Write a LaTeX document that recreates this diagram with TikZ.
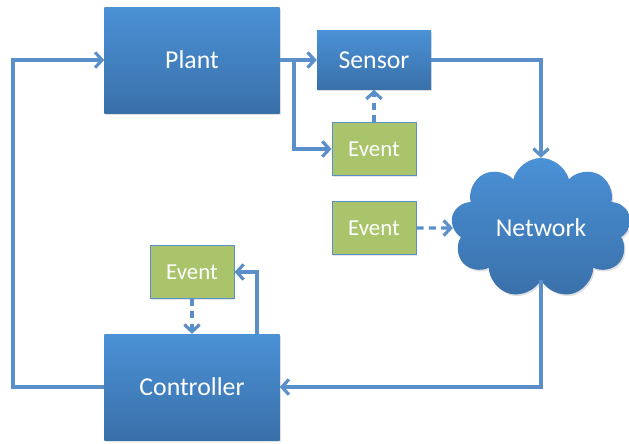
\documentclass[tikz,border=0pt]{standalone}
\usepackage{fontspec}
\setmainfont{Carlito}
\usetikzlibrary{shapes,shadows,arrows.meta}
\definecolor{boxtop}{HTML}{4A91D6}
\definecolor{boxbot}{HTML}{3A70AA}
\definecolor{evfill}{HTML}{A9C46B}
\definecolor{wire}{HTML}{5B8FC9}
\tikzset{blk/.style={rectangle,inner sep=0pt,top color=boxtop,bottom color=boxbot,text=white,font=\fontsize{22}{26}\selectfont,drop shadow={opacity=0.25,shadow xshift=0.04cm,shadow yshift=-0.05cm}}}
\tikzset{evt/.style={rectangle,inner sep=0pt,draw=wire,line width=0.8pt,fill=evfill,text=white,minimum width=2.52cm,minimum height=1.59cm,font=\fontsize{19.5}{23}\selectfont,drop shadow={opacity=0.2,shadow xshift=0.03cm,shadow yshift=-0.04cm}}}
\tikzset{wr/.style={draw=wire,line width=2.7pt}}
\tikzset{dsh/.style={wr,dash pattern=on 6pt off 4.5pt}}

\begin{document}
\begin{tikzpicture}[>={Straight Barb[length=6pt,width=13pt]},x=0.03cm,y=-0.03cm]
    \useasboundingbox (0,0) rectangle (629,443);

    \node[blk,minimum width=5.25cm,minimum height=3.18cm] (plant) at (192,60) {Plant};
    \node[blk,minimum width=3.42cm,minimum height=1.77cm] (sensor) at (374,60) {Sensor};
    \node[evt] (ev1) at (374,149) {Event};
    \node[evt] (ev2) at (374,228) {Event};
    \node[cloud,cloud puffs=9,aspect=1.25,inner sep=0pt,top color=boxtop,bottom color=boxbot,text=white,
          minimum width=5.4cm,minimum height=4.2cm,font=\fontsize{22}{26}\selectfont,
          drop shadow={opacity=0.25,shadow xshift=0.04cm,shadow yshift=-0.05cm}] (net) at (541,228) {Network};
    \node[evt] (ev3) at (192,272) {Event};
    \node[blk,minimum width=5.25cm,minimum height=3.18cm] (ctrl) at (192,387) {Controller};

    \coordinate (br) at (294,60);
    \coordinate (lc) at (13,387);
    \coordinate (ct) at (257,334);

    \draw [wr,->] (plant) -- (sensor);
    \draw [wr,->] (br) |- (ev1);
    \draw [dsh,->] (ev1) -- (sensor);
    \draw [wr,->] (sensor.east) -| (net);
    \draw [dsh,->] (ev2) -- (net);
    \draw [wr,->] (net) |- (ctrl);
    \draw [dsh,->] (ev3) -- (ctrl);
    \draw [wr,->] (ct) |- (ev3);
    \draw [wr,->] (ctrl) -- (lc) |- (plant);
\end{tikzpicture}
\end{document}
